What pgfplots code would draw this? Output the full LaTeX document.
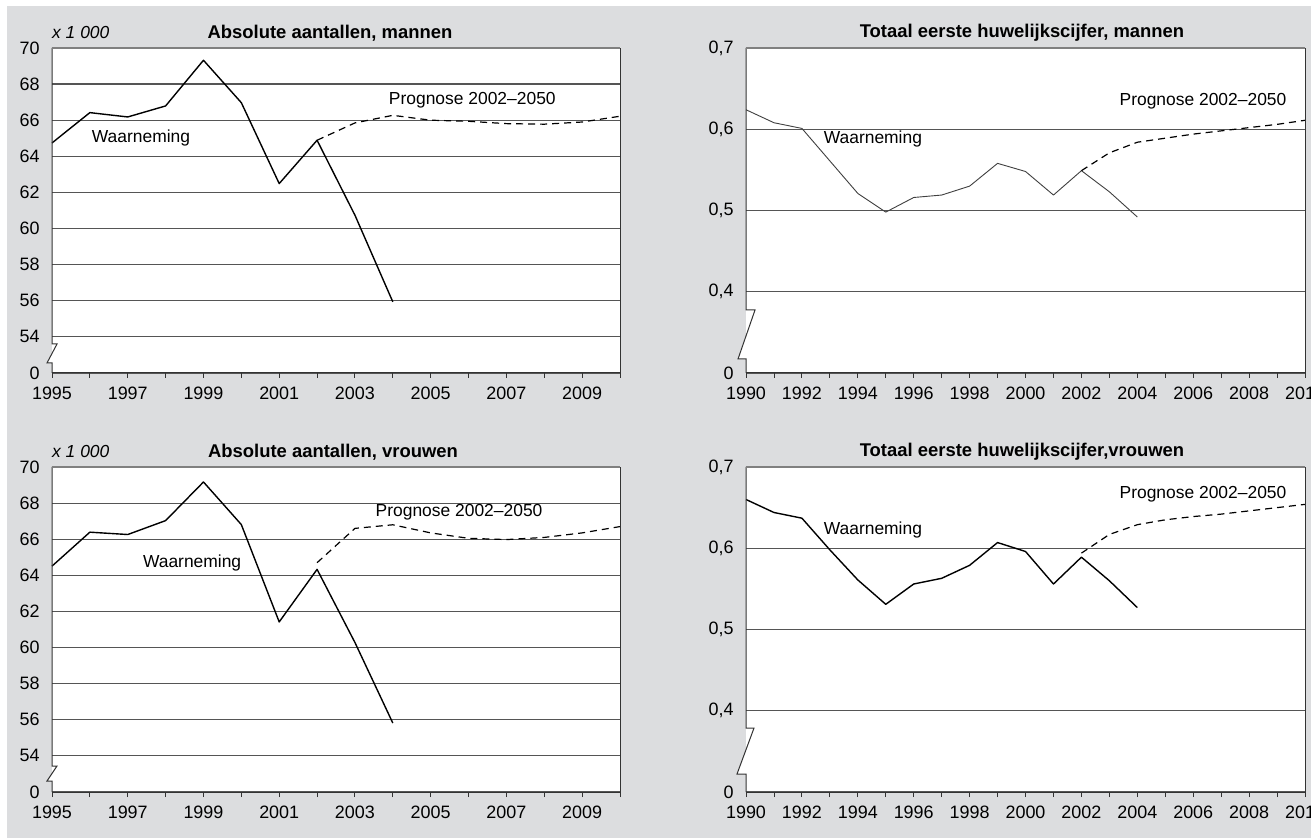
\documentclass[border=0pt]{standalone}
\usepackage{fontspec}
\setmainfont{Liberation Sans}
\usepackage{pgfplots}
\pgfplotsset{compat=1.18}
\definecolor{bg}{HTML}{DCDDDF}
\definecolor{axc}{HTML}{333333}
\definecolor{gridc}{HTML}{555555}
\pgfplotsset{
 base/.style={
  scale only axis, height=325bp, clip=false,
  axis background/.style={fill=white},
  separate axis lines,
  x axis line style={draw=axc, line width=1bp},
  y axis line style={draw=none},
  ymajorgrids, grid style={draw=gridc, line width=1.2bp},
  tick align=outside, xtick pos=left,
  major tick length=5bp, minor tick length=5bp,
  xtick style={draw=axc, line width=0.9bp},
  ytick style={draw=none},
  ticklabel style={font=\fontsize{18}{20}\selectfont},
  /pgf/number format/assume math mode=true,
  yticklabel style={xshift=-4bp},
  xticklabel style={yshift=-5bp},
 },
 absax/.style={base, width=568bp, xmin=1995, xmax=2010, ymin=52, ymax=70,
  xtick={1995,1997,...,2009}, xticklabels={1995,1997,1999,2001,2003,2005,2007,2009},
  minor xtick={1996,1998,...,2010},
  ytick={52,54,...,70}, yticklabels={0,54,56,58,60,62,64,66,68,70}},
 ratax/.style={base, width=559bp, xmin=1990, xmax=2010, ymin=0.3, ymax=0.7,
  xtick={1990,1992,...,2010}, xticklabels={1990,1992,1994,1996,1998,2000,2002,2004,2006,2008,2010},
  minor xtick={1991,1993,...,2009},
  ytick={0.3,0.4,0.5,0.6,0.7}, yticklabels={0,{0,4},{0,5},{0,6},{0,7}}},
 obs/.style={black, line width=1.4bp, line join=round},
 fc/.style={black, line width=1.2bp, dash pattern=on 7bp off 5bp},
}
\newcommand\lbl{\fontsize{17.5}{20}\selectfont}
\newcommand\ttl{\fontsize{18.5}{20}\selectfont\bfseries}
\begin{document}
\begin{tikzpicture}[x=1bp,y=1bp]
\useasboundingbox (0,0) rectangle (1311,838);
\fill[white] (0,0) rectangle (1311,838);
\fill[bg] (7,0) rectangle (1311,832);

% Top-left
\begin{axis}[absax, at={(52bp,465bp)}, anchor=south west]
\addplot[obs] coordinates {(1995,64.74)(1996,66.42)(1997,66.18)(1998,66.79)(1999,69.32)(2000,66.97)(2001,62.49)(2002,64.89)(2003,60.74)(2004,55.94)};
\addplot[fc] coordinates {(2002,64.89)(2003,65.85)(2004,66.27)(2005,66.0)(2006,65.94)(2007,65.81)(2008,65.78)(2009,65.9)(2010,66.22)};
\node[font=\lbl] at (axis cs:1997.35,65.0) {Waarneming};
\node[font=\lbl] at (axis cs:2006.1,67.12) {Prognose 2002--2050};
\fill[white] ([yshift=29bp]rel axis cs:0,0) -- ++(5bp,0bp) -- ++(-10bp,-19bp) -- ++(5bp,0bp) -- cycle;
\draw[axc, line width=1bp] (rel axis cs:0,1) -- ([yshift=29bp]rel axis cs:0,0) -- ++(5bp,0bp) -- ++(-10bp,-19bp) -- ++(5bp,0bp) -- (rel axis cs:0,0);
\draw[axc, line width=1bp] (rel axis cs:1,0) -- (rel axis cs:1,1);
\draw[gray, line width=1.2bp] (rel axis cs:0,1) -- (rel axis cs:1,1);
\end{axis}

% Top-right
\begin{axis}[ratax, at={(746bp,465bp)}, anchor=south west]
\addplot[black!75, line width=0.9bp, line join=round] coordinates {(1990,0.624)(1991,0.608)(1992,0.601)(1993,0.561)(1994,0.521)(1995,0.498)(1996,0.516)(1997,0.519)(1998,0.530)(1999,0.558)(2000,0.548)(2001,0.519)(2002,0.549)(2003,0.523)(2004,0.492)};
\addplot[fc] coordinates {(2002,0.549)(2003,0.571)(2004,0.584)(2005,0.589)(2006,0.594)(2007,0.598)(2008,0.602)(2009,0.606)(2010,0.611)};
\node[font=\lbl] at (axis cs:1994.54,0.588) {Waarneming};
\node[font=\lbl] at (axis cs:2006.35,0.635) {Prognose 2002--2050};
\fill[white] ([yshift=63bp]rel axis cs:0,0) -- ++(9bp,0bp) -- ++(-17bp,-49bp) -- ++(8bp,0bp) -- cycle;
\draw[axc, line width=1bp] (rel axis cs:0,1) -- ([yshift=63bp]rel axis cs:0,0) -- ++(9bp,0bp) -- ++(-17bp,-49bp) -- ++(8bp,0bp) -- (rel axis cs:0,0);
\draw[axc, line width=1bp] (rel axis cs:1,0) -- (rel axis cs:1,1);
\draw[gray, line width=1.2bp] (rel axis cs:0,1) -- (rel axis cs:1,1);
\end{axis}

% Bottom-left
\begin{axis}[absax, at={(52bp,46bp)}, anchor=south west]
\addplot[obs] coordinates {(1995,64.51)(1996,66.39)(1997,66.26)(1998,67.03)(1999,69.17)(2000,66.81)(2001,61.42)(2002,64.33)(2003,60.28)(2004,55.82)};
\addplot[fc] coordinates {(2002,64.7)(2003,66.6)(2004,66.8)(2005,66.35)(2006,66.05)(2007,65.98)(2008,66.1)(2009,66.35)(2010,66.7)};
\node[font=\lbl] at (axis cs:1998.7,64.7) {Waarneming};
\node[font=\lbl] at (axis cs:2005.75,67.5) {Prognose 2002--2050};
\fill[white] ([yshift=26bp]rel axis cs:0,0) -- ++(5bp,0bp) -- ++(-10bp,-15bp) -- ++(5bp,0bp) -- cycle;
\draw[axc, line width=1bp] (rel axis cs:0,1) -- ([yshift=26bp]rel axis cs:0,0) -- ++(5bp,0bp) -- ++(-10bp,-15bp) -- ++(5bp,0bp) -- (rel axis cs:0,0);
\draw[axc, line width=1bp] (rel axis cs:1,0) -- (rel axis cs:1,1);
\draw[gray, line width=1.2bp] (rel axis cs:0,1) -- (rel axis cs:1,1);
\end{axis}

% Bottom-right
\begin{axis}[ratax, at={(746bp,46bp)}, anchor=south west]
\addplot[obs] coordinates {(1990,0.660)(1991,0.644)(1992,0.637)(1993,0.598)(1994,0.561)(1995,0.531)(1996,0.556)(1997,0.563)(1998,0.579)(1999,0.607)(2000,0.596)(2001,0.556)(2002,0.589)(2003,0.560)(2004,0.527)};
\addplot[fc] coordinates {(2002,0.594)(2003,0.617)(2004,0.629)(2005,0.635)(2006,0.639)(2007,0.642)(2008,0.646)(2009,0.650)(2010,0.654)};
\node[font=\lbl] at (axis cs:1994.54,0.622) {Waarneming};
\node[font=\lbl] at (axis cs:2006.35,0.6665) {Prognose 2002--2050};
\fill[white] ([yshift=64bp]rel axis cs:0,0) -- ++(8bp,0bp) -- ++(-17bp,-46bp) -- ++(9bp,0bp) -- cycle;
\draw[axc, line width=1bp] (rel axis cs:0,1) -- ([yshift=64bp]rel axis cs:0,0) -- ++(8bp,0bp) -- ++(-17bp,-46bp) -- ++(9bp,0bp) -- (rel axis cs:0,0);
\draw[axc, line width=1bp] (rel axis cs:1,0) -- (rel axis cs:1,1);
\draw[gray, line width=1.2bp] (rel axis cs:0,1) -- (rel axis cs:1,1);
\end{axis}

% Titles and units
\node[font=\ttl] at (330,805) {Absolute aantallen, mannen};
\node[font=\ttl] at (1022,805) {Totaal eerste huwelijkscijfer, mannen};
\node[font=\ttl] at (333,386) {Absolute aantallen, vrouwen};
\node[font=\ttl] at (1022,386) {Totaal eerste huwelijkscijfer,vrouwen};
\node[font=\fontsize{17.5}{20}\selectfont\itshape, anchor=west, inner sep=0pt] at (52,805) {x 1 000};
\node[font=\fontsize{17.5}{20}\selectfont\itshape, anchor=west, inner sep=0pt] at (52,386) {x 1 000};
\end{tikzpicture}
\end{document}
